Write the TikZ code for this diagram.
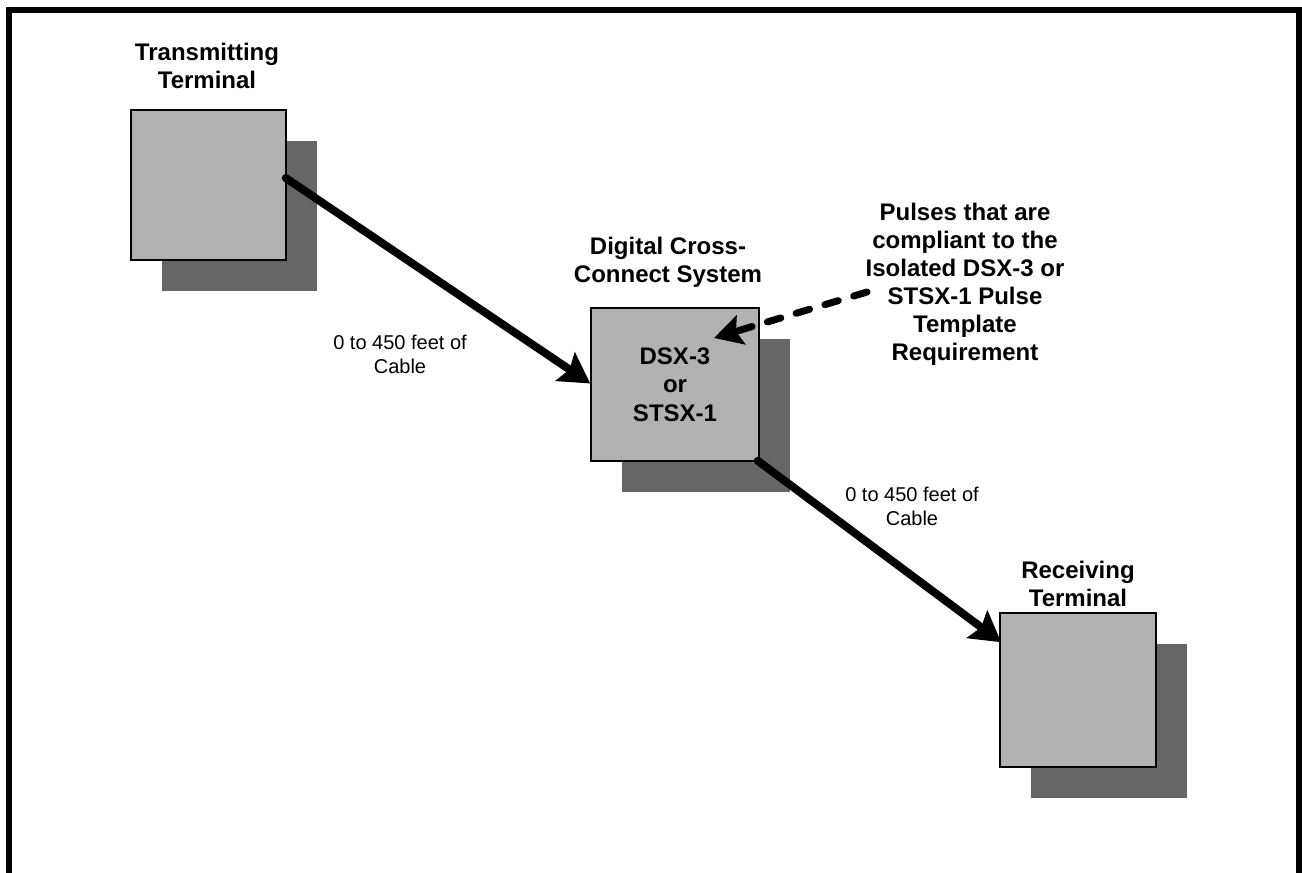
\documentclass[tikz,border=0pt]{standalone}
\usepackage{fontspec}
\setmainfont{Liberation Sans}
\usetikzlibrary{arrows.meta,calc}
\definecolor{boxgray}{gray}{0.70}
\definecolor{shadowgray}{gray}{0.40}
\tikzset{
  title/.style={font=\bfseries\fontsize{24}{28}\selectfont, align=center, inner sep=0pt},
  cablelabel/.style={font=\fontsize{20}{23.5}\selectfont, align=center, inner sep=0pt},
  termbox/.style={draw=black, line width=1.5pt, fill=boxgray, inner sep=0pt,
    font=\bfseries\fontsize{24}{28.5}\selectfont, align=center},
  shadowbox/.style={fill=shadowgray, draw=none, inner sep=0pt},
  cable/.style={line width=8pt, line cap=round, -{Stealth[length=30pt,width=34pt,inset=5pt]}},
  pulsearrow/.style={line width=7pt, line cap=round, dash pattern=on 14pt off 16pt,
    -{Stealth[length=28pt,width=30pt,inset=5pt]}},
}
\begin{document}
\begin{tikzpicture}[x=1pt,y=-1pt]
\useasboundingbox (0,0) rectangle (1302,873);
\fill[white] (0,0) rectangle (1302,873);
% frame
\draw[line width=6pt] (9,880) -- (9,10) -- (1299,10) -- (1299,880);

% shadows
\node[shadowbox, minimum width=155pt, minimum height=150pt] (txsh) at (239.5,216) {};
\node[shadowbox, minimum width=168pt, minimum height=153pt] (dcssh) at (705.5,415.5) {};
\node[shadowbox, minimum width=156pt, minimum height=154pt] (rxsh) at (1109,721) {};

% boxes
\node[termbox, minimum width=155pt, minimum height=150pt] (tx) at (208.5,185) {};
\node[termbox, minimum width=168pt, minimum height=153pt] (dcs) at (675,384.5) {DSX-3\\or\\STSX-1};
\node[termbox, minimum width=156pt, minimum height=154pt] (rx) at (1078,690) {};

% titles
\node[title] (txt) at (207,65.5) {Transmitting\\Terminal};
\node[title] (dcst) at (668,262) {Digital Cross-\\Connect System};
\node[title] (rxt) at (1078,583.5) {Receiving\\Terminal};
\node[title] (pulses) at (965,284.5) {Pulses that are\\compliant to the\\Isolated DSX-3 or\\STSX-1 Pulse\\Template\\Requirement};

% cable labels
\node[cablelabel] (c1) at (400,354.5) {0 to 450 feet of\\Cable};
\node[cablelabel] (c2) at (912,506.5) {0 to 450 feet of\\Cable};

% connectors
\coordinate (pstart) at (867,292);
\coordinate (ptip) at (714,338);
\draw[cable] ($(tx.east)+(-1,-7)$) -- ($(dcs.west)+(0,-1)$);
\draw[cable] ($(dcs.south east)+(-2,-1)$) -- ($(rx.north west)+(2,30)$);
\draw[pulsearrow] (pstart) -- (ptip);
\end{tikzpicture}
\end{document}
